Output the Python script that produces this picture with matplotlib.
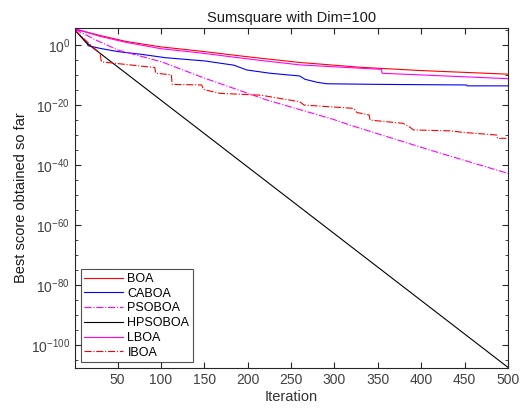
import numpy as np
import matplotlib
matplotlib.use("Agg")
import matplotlib.pyplot as plt
from matplotlib.ticker import FixedLocator, LogFormatterMathtext, NullFormatter

plt.rcParams['font.family'] = ['Liberation Sans', 'DejaVu Sans']
plt.rcParams['mathtext.fontset'] = 'custom'
plt.rcParams['mathtext.rm'] = 'Liberation Sans'
plt.rcParams['mathtext.it'] = 'Liberation Sans'

title = "Sumsquare with Dim=100"
xlabel = "Iteration"
ylabel = "Best score obtained so far"

# key points: iteration, log10(best score)
boa_it = [1, 30, 60, 100, 145, 200, 260, 330, 400, 500]
boa_lg = [5.3, 3.2, 1.2, -0.6, -2.0, -3.9, -5.8, -7.4, -8.5, -9.7]

caboa_it = [1, 15, 16, 30, 51, 78, 105, 151, 184, 199, 226, 260, 266, 280, 291, 350, 452, 453, 500]
caboa_lg = [5.0, 0.6, -0.2, -1.1, -2.2, -3.1, -4.2, -5.3, -6.7, -8.3, -9.4, -10.3, -11.4, -12.4, -12.9, -13.1, -13.3, -13.6, -13.6]

psoboa_it = [1, 25, 51, 101, 151, 222, 299, 318, 410, 500]
psoboa_lg = [5.3, 1.7, -1.7, -5.6, -11.1, -18.3, -24.8, -26.7, -35.0, -42.8]

hpsoboa_it = [1, 14, 500]
hpsoboa_lg = [5.0, 0.8, -107.5]

lboa_it = [1, 30, 60, 100, 145, 200, 260, 354, 355, 452, 500]
lboa_lg = [5.5, 2.9, 0.9, -1.2, -2.6, -4.6, -6.6, -8.1, -9.4, -10.6, -11.2]

iboa_it = [1, 15, 30, 31, 32, 93, 94, 112, 113, 147, 149, 168, 215, 260, 265, 322, 326, 340, 341,
           379, 387, 391, 433, 448, 487, 488, 500]
iboa_lg = [5.0, 1.1, -2.8, -5.0, -5.6, -7.5, -9.4, -9.9, -13.1, -13.3, -14.8, -16.1, -16.7, -18.9, -20.0,
           -21.1, -22.5, -23.3, -25.0, -26.1, -27.4, -28.3, -28.6, -29.1, -30.0, -31.1, -31.1]

series = [
    ("BOA", boa_it, boa_lg, "#ff0000", "-"),
    ("CABOA", caboa_it, caboa_lg, "#0000ff", "-"),
    ("PSOBOA", psoboa_it, psoboa_lg, "#ff00ff", "-."),
    ("HPSOBOA", hpsoboa_it, hpsoboa_lg, "#000000", "-"),
    ("LBOA", lboa_it, lboa_lg, "#ff00ff", "-"),
    ("IBOA", iboa_it, iboa_lg, "#ff0000", "-."),
]

fig = plt.figure(figsize=(5.23, 4.17), dpi=100)
ax = fig.add_axes([75/523, 1-368/417, (508-75)/523, (368-28)/417])

for name, it, lg, c, ls in series:
    ax.semilogy(it, 10.0 ** np.array(lg), color=c, linestyle=ls, linewidth=0.8, label=name)

ax.set_xlim(1, 500)
ax.set_ylim(10.0 ** -107.7, 10.0 ** 5.7)
ax.set_xticks([50, 100, 150, 200, 250, 300, 350, 400, 450, 500])
ax.yaxis.set_major_locator(FixedLocator(10.0 ** np.arange(-100, 1, 20)))
ax.yaxis.set_minor_locator(FixedLocator(10.0 ** np.arange(-105, 6, 5)))
ax.yaxis.set_major_formatter(LogFormatterMathtext())
ax.yaxis.set_minor_formatter(NullFormatter())
ax.tick_params(which='both', direction='in', top=True, right=True, labelsize=10,
               colors='#262626', labelcolor='#404040')
ax.tick_params(which='major', length=4)
ax.tick_params(which='minor', length=2)
for s in ax.spines.values():
    s.set_linewidth(0.8)
    s.set_color('#262626')

ax.set_title(title, fontsize=10.5, pad=4, color='#1a1a1a')
ax.set_xlabel(xlabel, fontsize=10.5, labelpad=2, color='#333333')
ax.set_ylabel(ylabel, fontsize=10.5, labelpad=2, color='#1a1a1a')

leg = ax.legend(loc='lower left', fontsize=9, frameon=True, fancybox=False,
                edgecolor='#262626', handlelength=3.1, borderaxespad=0.45,
                labelspacing=0.22, handletextpad=0.35, borderpad=0.3)
leg.get_frame().set_linewidth(0.8)

fig.savefig("out.png", dpi=100)
